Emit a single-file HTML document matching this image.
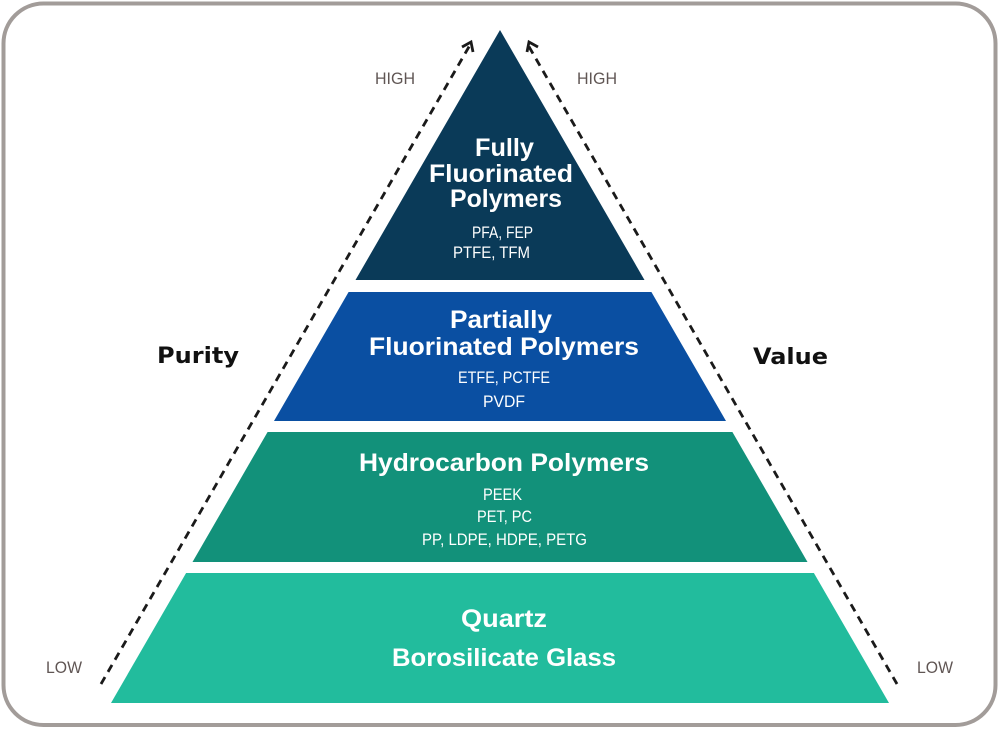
<!DOCTYPE html>
<html><head><meta charset="utf-8"><style>
html,body{margin:0;padding:0;background:#fff;}
svg{display:block;}
.t{font-family:"Liberation Sans",sans-serif;font-weight:bold;fill:#fff;font-size:25px;}
.s{font-family:"Liberation Sans",sans-serif;fill:#fff;font-size:17px;}
.g{font-family:"Liberation Sans",sans-serif;fill:#605654;font-size:16.5px;}
.k{font-family:"DejaVu Sans",sans-serif;font-weight:bold;fill:#111;font-size:22px;}
</style></head><body>
<svg width="1000" height="729" viewBox="0 0 1000 729" xmlns="http://www.w3.org/2000/svg">
<rect x="3.5" y="3.5" width="992" height="721.5" rx="40" ry="40" fill="#fff" stroke="#a29c99" stroke-width="4"/>
<polygon points="500,30 644.5,280 355.5,280" fill="#0a3a58"/>
<polygon points="348.6,292 651.4,292 726,421 274,421" fill="#0a4fa2"/>
<polygon points="267.6,432 732.4,432 807.5,562 192.5,562" fill="#12917a"/>
<polygon points="186.1,573 813.9,573 889,703 111,703" fill="#22bc9d"/>
<g stroke="#1a1a1a" stroke-width="2.8" fill="none">
<line x1="101" y1="684" x2="470" y2="45" stroke-dasharray="8,6"/>
<line x1="897" y1="684" x2="528" y2="45" stroke-dasharray="8,6"/>
<polyline points="462,47 471,42 473,52"/>
<polyline points="538,47 529,42 527,52"/>
</g>
<text class="g" x="375" y="84" textLength="40" lengthAdjust="spacingAndGlyphs">HIGH</text>
<text class="g" x="577" y="84" textLength="40" lengthAdjust="spacingAndGlyphs">HIGH</text>
<text class="g" x="46" y="673" textLength="36" lengthAdjust="spacingAndGlyphs">LOW</text>
<text class="g" x="917" y="673" textLength="36" lengthAdjust="spacingAndGlyphs">LOW</text>
<text class="k" x="157" y="363" textLength="82" lengthAdjust="spacingAndGlyphs">Purity</text>
<text class="k" x="753" y="364" textLength="75" lengthAdjust="spacingAndGlyphs">Value</text>

<text class="t" x="475" y="156" textLength="59" lengthAdjust="spacingAndGlyphs">Fully</text>
<text class="t" x="429" y="182" textLength="144" lengthAdjust="spacingAndGlyphs">Fluorinated</text>
<text class="t" x="450" y="207" textLength="112" lengthAdjust="spacingAndGlyphs">Polymers</text>
<text class="s" x="472" y="238" textLength="61" lengthAdjust="spacingAndGlyphs">PFA, FEP</text>
<text class="s" x="453" y="258" textLength="77" lengthAdjust="spacingAndGlyphs">PTFE, TFM</text>

<text class="t" x="450" y="328" textLength="102" lengthAdjust="spacingAndGlyphs">Partially</text>
<text class="t" x="369" y="355" textLength="270" lengthAdjust="spacingAndGlyphs">Fluorinated Polymers</text>
<text class="s" x="458" y="383" textLength="92" lengthAdjust="spacingAndGlyphs">ETFE, PCTFE</text>
<text class="s" x="483" y="407" textLength="42" lengthAdjust="spacingAndGlyphs">PVDF</text>

<text class="t" x="359" y="471" textLength="290" lengthAdjust="spacingAndGlyphs">Hydrocarbon Polymers</text>
<text class="s" x="483" y="500" textLength="39" lengthAdjust="spacingAndGlyphs">PEEK</text>
<text class="s" x="477" y="522" textLength="55" lengthAdjust="spacingAndGlyphs">PET, PC</text>
<text class="s" x="422" y="545" textLength="165" lengthAdjust="spacingAndGlyphs">PP, LDPE, HDPE, PETG</text>

<text class="t" x="461" y="627" textLength="86" lengthAdjust="spacingAndGlyphs">Quartz</text>
<text class="t" x="392" y="666" textLength="224" lengthAdjust="spacingAndGlyphs">Borosilicate Glass</text>
</svg>
</body></html>
